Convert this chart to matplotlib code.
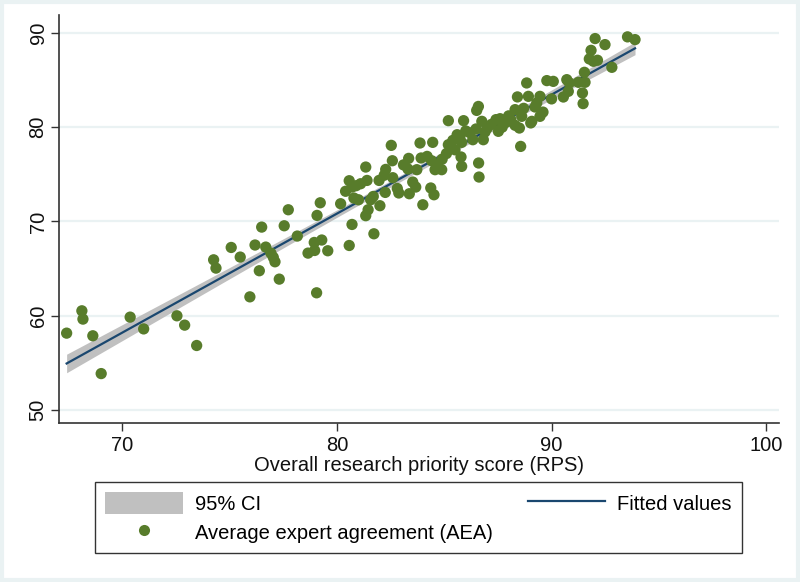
import numpy as np
import matplotlib
matplotlib.use("Agg")
import matplotlib.pyplot as plt
from matplotlib.patches import Rectangle, Patch
from matplotlib.lines import Line2D

# Overall research priority score (RPS)
rps = [67.40, 68.11, 68.16, 68.62, 69.01, 70.36, 70.99, 72.54, 72.90, 73.46,
       74.25, 74.36, 75.07, 75.49, 75.94, 76.18, 76.49, 76.38, 76.68, 76.92,
       77.03, 77.11, 77.31, 77.54, 77.73, 78.15, 78.65, 78.94, 78.96, 79.29,
       79.57, 79.05, 79.07, 79.22, 80.17, 80.57, 80.70, 80.89, 80.70, 80.57,
       80.79, 81.00, 81.34, 81.40, 81.34, 81.45, 81.57, 81.69, 81.72, 81.96,
       82.00, 82.25, 82.27, 82.53, 82.58, 82.60, 82.81, 82.88, 83.34, 83.31,
       83.37, 83.53, 83.67, 83.72, 83.87, 84.00, 83.92, 84.46, 84.37, 84.52,
       84.41, 84.57, 84.68, 84.88, 85.19, 85.19, 85.73, 85.81, 85.78, 85.81,
       85.90, 86.33, 86.51, 86.59, 86.60, 86.62, 86.48, 86.75, 86.82, 87.41,
       87.52, 87.88, 88.30, 88.41, 88.56, 88.50, 88.84, 88.92, 89.03, 88.61,
       89.31, 92.03, 92.49, 91.84, 91.76, 91.95, 92.14, 92.81, 93.54, 93.89,
       91.53, 91.56, 91.25, 90.71, 90.83, 89.78, 90.08, 90.78, 90.55, 91.44,
       90.00, 89.46, 89.23, 89.46, 89.08, 91.47, 85.40, 85.60, 86.00, 86.20,
       87.00, 87.20, 87.70, 88.00, 88.10, 88.70, 89.60, 85.10, 84.90, 86.90,
       88.30, 87.60, 85.50, 84.20, 83.10, 82.20, 81.10, 80.40]
# Average expert agreement (AEA)
aea = [58.15, 60.52, 59.64, 57.87, 53.86, 59.85, 58.60, 59.99, 59.00, 56.84,
       65.93, 65.05, 67.24, 66.22, 62.00, 67.50, 69.40, 64.77, 67.28, 66.64,
       66.20, 65.72, 63.88, 69.54, 71.24, 68.45, 66.64, 67.77, 66.92, 68.03,
       66.89, 62.43, 70.64, 71.98, 71.88, 74.32, 73.65, 73.79, 69.68, 67.45,
       72.48, 72.30, 75.77, 74.35, 70.61, 71.24, 72.30, 72.65, 68.69, 74.35,
       71.67, 73.08, 75.52, 78.07, 76.44, 74.64, 73.50, 73.02, 76.69, 75.56,
       72.94, 74.18, 73.65, 75.49, 78.32, 71.77, 76.73, 78.39, 73.55, 72.83,
       76.44, 75.49, 75.91, 75.49, 80.69, 78.14, 79.02, 78.39, 76.84, 75.84,
       80.69, 78.67, 81.78, 82.20, 76.20, 74.71, 79.81, 80.62, 78.67, 80.80,
       79.56, 80.51, 81.86, 83.21, 77.96, 79.91, 84.69, 83.27, 80.45, 81.15,
       82.57, 89.40, 88.76, 88.15, 87.24, 86.99, 87.10, 86.35, 89.58, 89.29,
       85.82, 84.76, 84.76, 85.04, 84.69, 84.94, 84.86, 83.80, 83.20, 83.63,
       83.00, 83.27, 82.14, 81.15, 80.62, 82.50, 78.60, 79.20, 79.60, 79.40,
       79.90, 80.30, 80.00, 81.20, 80.80, 82.00, 81.60, 77.20, 76.60, 79.50,
       80.20, 80.90, 77.60, 76.90, 76.00, 74.90, 74.00, 73.20]

x = np.array(rps)
y = np.array(aea)

# OLS fit and 95% CI of the mean
n = len(x)
b1, b0 = np.polyfit(x, y, 1)
resid = y - (b0 + b1 * x)
s = np.sqrt(np.sum(resid**2) / (n - 2))
xg = np.linspace(x.min(), x.max(), 200)
yg = b0 + b1 * xg
se = s * np.sqrt(1.0 / n + (xg - x.mean())**2 / np.sum((x - x.mean())**2))
tcrit = 1.976
lo, hi = yg - tcrit * se, yg + tcrit * se

plt.rcParams['font.family'] = ['Liberation Sans', 'DejaVu Sans']
FS = 14.5

fig = plt.figure(figsize=(8, 5.82), dpi=100)
fig.patch.set_facecolor('white')
fig.patches.append(Rectangle((0.002, 0.003), 0.996, 0.994, transform=fig.transFigure,
                             fill=False, edgecolor='#EAF2F3', linewidth=3, zorder=0))

ax = fig.add_axes([58.7/800, 1 - 422.7/582, (779 - 58.7)/800, (422.7 - 15)/582])
ax.set_facecolor('white')

ax.set_xlim(67.03, 100.6)
ax.set_ylim(48.65, 91.9)

for yy in [50, 60, 70, 80, 90]:
    ax.axhline(yy, color='#EAF2F3', lw=1.6, zorder=0)

ax.fill_between(xg, lo, hi, color='#C0C0C0', lw=0, zorder=1)
ax.plot(xg, yg, color='#1A476F', lw=1.6, zorder=2)
ax.scatter(x, y, s=66, color='#587C2B', edgecolors='none', zorder=3)

ax.set_xticks([70, 80, 90, 100])
ax.set_yticks([50, 60, 70, 80, 90])
ax.tick_params(axis='both', direction='out', length=6, width=1, color='#333333',
               labelsize=FS, labelcolor='#111111')
ax.tick_params(axis='y', pad=2)
for lab in ax.get_yticklabels():
    lab.set_rotation(90)
    lab.set_va('center')
for sp in ['top', 'right']:
    ax.spines[sp].set_visible(False)
for sp in ['left', 'bottom']:
    ax.spines[sp].set_color('#333333')
    ax.spines[sp].set_linewidth(1.2)

ax.set_xlabel('Overall research priority score (RPS)', fontsize=FS, color='#111111', labelpad=1)

handles = [Patch(facecolor='#C0C0C0', edgecolor='none', label='95% CI'),
           Line2D([], [], marker='o', ls='none', color='#587C2B', markersize=8,
                  markeredgecolor='none', label='Average expert agreement (AEA)'),
           Line2D([], [], color='#1A476F', lw=1.6, label='Fitted values')]
leg = fig.legend(handles=handles, ncol=2, mode='expand',
                 bbox_to_anchor=(95/800, 1 - 553/582, 647/800, 68/582),
                 loc='lower left', fontsize=FS, frameon=True, fancybox=False,
                 handlelength=3.85, handleheight=1.3, borderaxespad=0,
                 borderpad=0.5, labelspacing=0.35, handletextpad=0.6)
leg.get_frame().set_edgecolor('black')
leg.get_frame().set_linewidth(1.0)

fig.savefig('out.png', dpi=100, facecolor='white')
